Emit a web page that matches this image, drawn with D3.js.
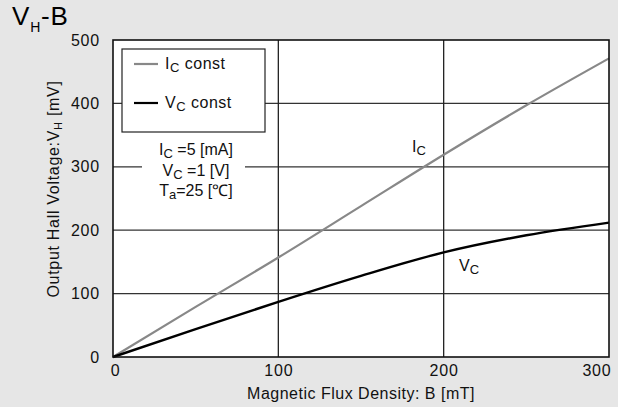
<!DOCTYPE html>
<html>
<head>
<meta charset="utf-8">
<script src="https://cdn.jsdelivr.net/npm/d3@7"></script>
<style>
  body { margin: 0; background: #e6e6e6; }
  svg { display: block; font-family: "Liberation Sans", Arial, Helvetica, sans-serif; }
</style>
</head>
<body>
<div id="chart"></div>
<script>
// data
var fluxB = [0, 50, 100, 150, 200, 250, 300];
var icConst = [0, 79, 157, 238, 319, 397, 471];
var vcConst = [0, 44, 87, 128, 165, 192, 212];
var xTicks = [0, 100, 200, 300];
var yTicks = [0, 100, 200, 300, 400, 500];

var svgWidth = 618;
var svgHeight = 407;

var margin = { top: 40, right: 9, bottom: 50, left: 113 };
var width = svgWidth - margin.left - margin.right;
var height = svgHeight - margin.top - margin.bottom;

var svg = d3.select("#chart")
    .append("svg")
    .attr("width", svgWidth)
    .attr("height", svgHeight);

svg.append("rect")
    .attr("width", svgWidth)
    .attr("height", svgHeight)
    .attr("fill", "#e6e6e6");

var chartGroup = svg.append("g")
    .attr("transform", `translate(${margin.left}, ${margin.top})`);

var xScale = d3.scaleLinear().domain([0, 300]).range([0, width]);
var yScale = d3.scaleLinear().domain([0, 500]).range([height, 0]);

// plot background
chartGroup.append("rect")
    .attr("width", width)
    .attr("height", height)
    .attr("fill", "white");

// grid lines
chartGroup.append("g")
    .selectAll("line")
    .data(yTicks.slice(1, -1))
    .enter()
    .append("line")
    .attr("x1", 0)
    .attr("x2", width)
    .attr("y1", d => yScale(d))
    .attr("y2", d => yScale(d))
    .attr("stroke", "#333")
    .attr("stroke-width", 1.3);

chartGroup.append("g")
    .selectAll("line")
    .data(xTicks.slice(1, -1))
    .enter()
    .append("line")
    .attr("y1", 0)
    .attr("y2", height)
    .attr("x1", d => xScale(d))
    .attr("x2", d => xScale(d))
    .attr("stroke", "#222")
    .attr("stroke-width", 1.3);

// axes (labels only, no tick marks)
var bottomAxis = d3.axisBottom(xScale).tickValues(xTicks).tickSize(0).tickPadding(8);
var leftAxis = d3.axisLeft(yScale).tickValues(yTicks).tickSize(0).tickPadding(13);

var xAxisG = chartGroup.append("g")
    .attr("transform", `translate(0, ${height})`)
    .call(bottomAxis);
var yAxisG = chartGroup.append("g").call(leftAxis);

[xAxisG, yAxisG].forEach(g => {
    g.select(".domain").remove();
    g.selectAll("text")
        .attr("font-size", 16)
        .attr("letter-spacing", 0.8)
        .attr("font-family", "Liberation Sans, Arial, sans-serif")
        .attr("fill", "#111");
});
// last x label sits inside the frame's right edge
xAxisG.selectAll(".tick text")
    .filter(d => d === 300)
    .attr("text-anchor", "end")
    .attr("dx", 2);
xAxisG.selectAll(".tick text")
    .filter(d => d === 0)
    .attr("dx", 2);

// legend box
var legend = chartGroup.append("g");
legend.append("rect")
    .attr("x", 9)
    .attr("y", 9)
    .attr("width", 143)
    .attr("height", 83)
    .attr("fill", "white")
    .attr("stroke", "#222")
    .attr("stroke-width", 1.2);

var legendItems = [
    { main: "I", sub: "C", color: "#888", y: 24 },
    { main: "V", sub: "C", color: "#000", y: 63 }
];
legendItems.forEach(item => {
    legend.append("line")
        .attr("x1", 21).attr("x2", 45)
        .attr("y1", item.y).attr("y2", item.y)
        .attr("stroke", item.color)
        .attr("stroke-width", 2.2);
    var t = legend.append("text")
        .attr("x", 52)
        .attr("y", item.y + 5)
        .attr("font-size", 16)
        .attr("letter-spacing", 0.5)
        .attr("fill", "#111");
    t.append("tspan").text(item.main);
    t.append("tspan").attr("font-size", 13).attr("dy", 3).text(item.sub);
    t.append("tspan").attr("dy", -3).text(" const");
});

// conditions note
chartGroup.append("rect")
    .attr("x", 29)
    .attr("y", 119)
    .attr("width", 103)
    .attr("height", 40)
    .attr("fill", "white");

var notes = [
    { main: "I", sub: "C", rest: " =5 [mA]", y: 115 },
    { main: "V", sub: "C", rest: " =1 [V]", y: 136 },
    { main: "T", sub: "a", rest: "=25 [℃]", y: 156 }
];
notes.forEach(n => {
    var t = chartGroup.append("text")
        .attr("x", 83)
        .attr("y", n.y)
        .attr("text-anchor", "middle")
        .attr("font-size", 16)
        .attr("fill", "#111");
    t.append("tspan").text(n.main);
    t.append("tspan").attr("font-size", 13).attr("dy", 3).text(n.sub);
    t.append("tspan").attr("dy", -3).text(n.rest);
});

// curves
var line = d3.line()
    .x((d, i) => xScale(fluxB[i]))
    .y(d => yScale(d))
    .curve(d3.curveMonotoneX);

chartGroup.append("path")
    .datum(icConst)
    .attr("d", line)
    .attr("fill", "none")
    .attr("stroke", "#888")
    .attr("stroke-width", 2.2);

chartGroup.append("path")
    .datum(vcConst)
    .attr("d", line)
    .attr("fill", "none")
    .attr("stroke", "#000")
    .attr("stroke-width", 2.4);

// curve labels
var curveLabels = [
    { main: "I", sub: "C", x: 299, y: 112 },
    { main: "V", sub: "C", x: 346, y: 231 }
];
curveLabels.forEach(c => {
    var t = chartGroup.append("text")
        .attr("x", c.x)
        .attr("y", c.y)
        .attr("font-size", 16)
        .attr("fill", "#111");
    t.append("tspan").text(c.main);
    t.append("tspan").attr("font-size", 13).attr("dy", 3).text(c.sub);
});

// plot frame
chartGroup.append("rect")
    .attr("width", width)
    .attr("height", height)
    .attr("fill", "none")
    .attr("stroke", "#111")
    .attr("stroke-width", 1.6);

// axis titles
chartGroup.append("text")
    .attr("x", width / 2)
    .attr("y", height + 42)
    .attr("text-anchor", "middle")
    .attr("font-size", 16)
    .attr("letter-spacing", 0.5)
    .attr("fill", "#111")
    .text("Magnetic Flux Density: B [mT]");

var yTitle = svg.append("text")
    .attr("transform", "translate(59, 189) rotate(-90)")
    .attr("text-anchor", "middle")
    .attr("font-size", 16)
    .attr("letter-spacing", 0.7)
    .attr("fill", "#111");
yTitle.append("tspan").text("Output Hall Voltage:V");
yTitle.append("tspan").attr("font-size", 11).attr("dy", 3).text("H");
yTitle.append("tspan").attr("dy", -3).text(" [mV]");

// chart title
var title = svg.append("text")
    .attr("x", 12)
    .attr("y", 25)
    .attr("font-size", 26)
    .attr("letter-spacing", 0.8)
    .attr("fill", "#000");
title.append("tspan").text("V");
title.append("tspan").attr("font-size", 14).attr("dy", 7).text("H");
title.append("tspan").attr("dy", -7).text("-B");
</script>
</body>
</html>
